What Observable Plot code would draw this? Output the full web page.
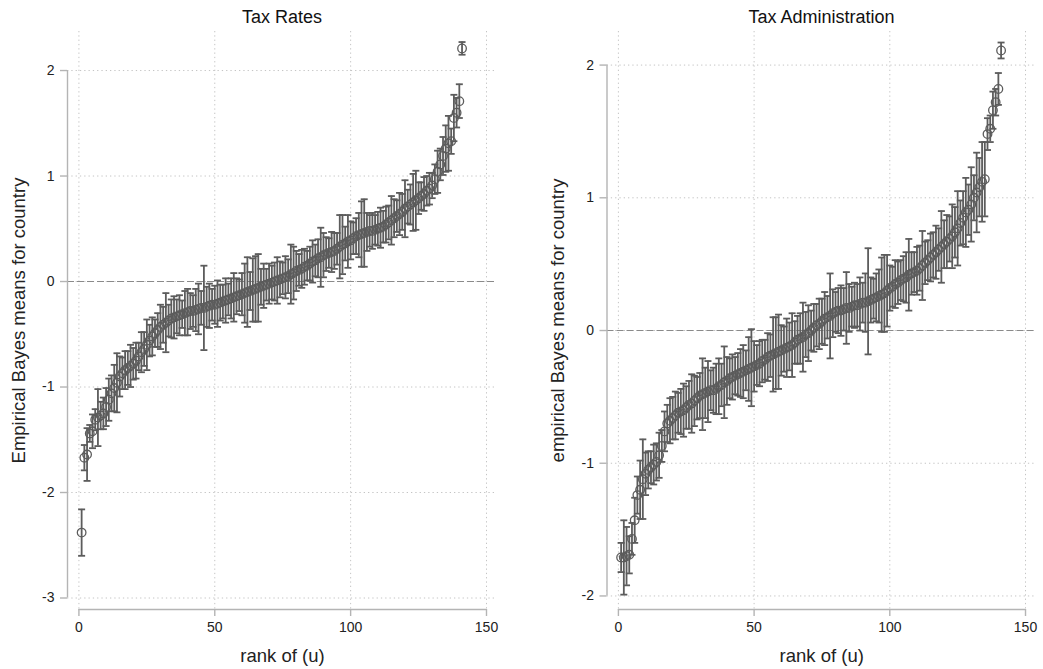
<!DOCTYPE html>
<html><head><meta charset="utf-8">
<script src="https://cdn.jsdelivr.net/npm/d3@7"></script>
<script src="https://cdn.jsdelivr.net/npm/@observablehq/plot@0.6"></script>
<style>
body{margin:0;background:#fff;}
#wrap{position:relative;width:1043px;height:669px;overflow:hidden;font-family:"Liberation Sans",Arial,sans-serif;background:#fff;}
.panel{position:absolute;top:0;}
.title{position:absolute;top:7px;height:20px;line-height:20px;width:430px;font-size:18px;color:#111;text-align:center;white-space:nowrap;z-index:2;}
</style></head><body><div id="wrap"></div>
<script>
// ---------- data ----------
const panelTitles = ["Tax Rates", "Tax Administration"];
const yLabels = ["Empirical Bayes means for country", "empirical Bayes means for country"];
const xLabel = "rank of (u)";
const xTicks = [0, 50, 100, 150];
const ratesYTicks = [-3, -2, -1, 0, 1, 2];
const adminYTicks = [-2, -1, 0, 1, 2];

const ratesMean = [
-2.38,-1.67,-1.64,-1.44,-1.42,-1.31,-1.29,-1.27,-1.25,-1.19,
-1.12,-1.06,-1.01,-0.96,-0.90,-0.87,-0.84,-0.82,-0.80,-0.78,
-0.75,-0.71,-0.67,-0.64,-0.60,-0.56,-0.52,-0.49,-0.46,-0.43,
-0.41,-0.39,-0.37,-0.35,-0.34,-0.33,-0.32,-0.31,-0.30,-0.29,
-0.28,-0.28,-0.27,-0.26,-0.25,-0.25,-0.24,-0.23,-0.22,-0.22,
-0.21,-0.20,-0.19,-0.18,-0.17,-0.16,-0.15,-0.14,-0.13,-0.12,
-0.11,-0.10,-0.09,-0.08,-0.07,-0.06,-0.05,-0.04,-0.03,-0.02,
-0.01,0.00,0.01,0.02,0.03,0.04,0.05,0.07,0.08,0.10,
0.11,0.12,0.14,0.15,0.17,0.19,0.20,0.22,0.23,0.25,
0.26,0.27,0.28,0.29,0.31,0.33,0.35,0.36,0.38,0.39,
0.41,0.43,0.44,0.45,0.46,0.47,0.48,0.48,0.49,0.50,
0.51,0.52,0.54,0.56,0.58,0.60,0.62,0.64,0.66,0.69,
0.71,0.73,0.75,0.77,0.79,0.81,0.83,0.86,0.88,0.91,
0.97,1.04,1.11,1.19,1.26,1.31,1.33,1.55,1.60,1.71,
2.21];
const ratesErr = [
0.22,0.12,0.25,0.08,0.16,0.10,0.27,0.13,0.15,0.18,
0.20,0.17,0.22,0.28,0.19,0.15,0.18,0.16,0.20,0.15,
0.17,0.13,0.19,0.16,0.24,0.15,0.18,0.13,0.16,0.21,
0.17,0.28,0.15,0.18,0.20,0.16,0.19,0.13,0.21,0.22,
0.17,0.15,0.20,0.24,0.16,0.40,0.19,0.21,0.15,0.18,
0.22,0.17,0.16,0.21,0.15,0.19,0.23,0.17,0.15,0.20,
0.28,0.33,0.18,0.30,0.31,0.32,0.17,0.21,0.15,0.19,
0.16,0.18,0.22,0.17,0.15,0.20,0.16,0.28,0.25,0.19,
0.15,0.18,0.17,0.14,0.16,0.20,0.15,0.18,0.28,0.21,
0.16,0.14,0.19,0.17,0.15,0.30,0.28,0.16,0.25,0.18,
0.15,0.17,0.21,0.31,0.32,0.18,0.15,0.17,0.14,0.16,
0.19,0.15,0.17,0.16,0.23,0.18,0.15,0.20,0.17,0.27,
0.16,0.19,0.27,0.28,0.15,0.13,0.16,0.14,0.15,0.12,
0.14,0.20,0.15,0.18,0.22,0.26,0.12,0.22,0.14,0.16,
0.06];

const adminMean = [
-1.71,-1.71,-1.70,-1.69,-1.57,-1.43,-1.24,-1.20,-1.12,-1.08,
-1.05,-1.03,-1.01,-0.99,-0.94,-0.87,-0.76,-0.70,-0.68,-0.66,
-0.64,-0.62,-0.61,-0.60,-0.58,-0.56,-0.55,-0.53,-0.51,-0.49,
-0.48,-0.47,-0.46,-0.45,-0.45,-0.44,-0.42,-0.41,-0.39,-0.38,
-0.36,-0.35,-0.34,-0.33,-0.32,-0.31,-0.30,-0.29,-0.28,-0.27,
-0.26,-0.25,-0.23,-0.22,-0.20,-0.19,-0.18,-0.17,-0.16,-0.15,
-0.14,-0.13,-0.12,-0.11,-0.09,-0.07,-0.06,-0.05,-0.03,-0.02,
0.00,0.02,0.04,0.05,0.07,0.09,0.10,0.11,0.13,0.14,
0.15,0.15,0.16,0.17,0.17,0.18,0.19,0.19,0.20,0.21,
0.21,0.22,0.23,0.24,0.25,0.26,0.27,0.28,0.30,0.32,
0.33,0.35,0.36,0.38,0.39,0.40,0.42,0.43,0.44,0.45,
0.47,0.49,0.51,0.53,0.55,0.57,0.59,0.61,0.63,0.65,
0.67,0.69,0.71,0.74,0.77,0.81,0.85,0.89,0.91,0.95,
1.00,1.04,1.08,1.12,1.14,1.48,1.52,1.66,1.72,1.82,
2.11];
const adminErr = [
0.11,0.28,0.22,0.14,0.12,0.17,0.14,0.22,0.30,0.16,
0.14,0.12,0.15,0.14,0.17,0.12,0.15,0.14,0.17,0.16,
0.18,0.15,0.17,0.20,0.16,0.18,0.22,0.19,0.16,0.17,
0.27,0.19,0.23,0.15,0.17,0.19,0.21,0.16,0.27,0.18,
0.15,0.17,0.14,0.16,0.18,0.20,0.15,0.24,0.29,0.19,
0.15,0.17,0.16,0.15,0.18,0.16,0.28,0.27,0.28,0.19,
0.17,0.22,0.18,0.24,0.16,0.18,0.19,0.26,0.17,0.21,
0.15,0.18,0.16,0.19,0.17,0.20,0.16,0.32,0.18,0.15,
0.17,0.19,0.16,0.27,0.18,0.15,0.17,0.16,0.20,0.15,
0.22,0.40,0.17,0.15,0.18,0.20,0.28,0.29,0.27,0.17,
0.15,0.18,0.16,0.15,0.17,0.19,0.27,0.16,0.15,0.18,
0.17,0.26,0.16,0.15,0.18,0.17,0.20,0.16,0.27,0.18,
0.20,0.17,0.24,0.19,0.28,0.17,0.20,0.26,0.19,0.28,
0.17,0.30,0.22,0.30,0.28,0.12,0.10,0.14,0.10,0.12,
0.06];

// ---------- drawing ----------
const ink = "#5c5c5c";
const capSymbol = {draw(ctx) { ctx.moveTo(-3.5, 0); ctx.lineTo(3.5, 0); }};
const fmt = d => String(d);

function panel({mean, err, yTicks, yDomain, ylabel, width, marginLeft, marginRight}) {
  const rows = mean.map((v, i) => ({rank: i + 1, v, lo: v - err[i], hi: v + err[i]}));
  const xDomain = [-4.2, 154.05];
  return Plot.plot({
    width, height: 669,
    marginLeft, marginRight, marginTop: 31, marginBottom: 60,
    style: {fontFamily: '"Liberation Sans", Arial, sans-serif', fontSize: "14px", background: "transparent", overflow: "visible"},
    x: {domain: xDomain},
    y: {domain: yDomain},
    marks: [
      Plot.gridX(xTicks, {stroke: "#c4c4c4", strokeOpacity: 1, strokeDasharray: "1.3,3"}),
      Plot.gridY(yTicks, {stroke: "#c4c4c4", strokeOpacity: 1, strokeDasharray: "1.3,3"}),
      Plot.ruleY([0], {stroke: "#8a8a8a", strokeWidth: 1.2, strokeDasharray: "7,3"}),
      // axis lines spanning the tick range
      Plot.ruleX([xDomain[0]], {y1: d3.min(yTicks), y2: d3.max(yTicks), stroke: "#b4b4b4", strokeWidth: 1.4}),
      Plot.ruleY([yDomain[0]], {x1: d3.min(xTicks), x2: d3.max(xTicks), stroke: "#b4b4b4", strokeWidth: 1.4}),
      Plot.axisY(yTicks, {tickSize: 7, tickPadding: 6, tickFormat: fmt, stroke: "#b4b4b4", strokeWidth: 1.4, fill: "#222", fontSize: 14,
        label: ylabel, labelAnchor: "center", labelArrow: "none", labelOffset: 56}),
      Plot.axisX(xTicks, {tickSize: 7, tickPadding: 6, tickFormat: fmt, stroke: "#b4b4b4", strokeWidth: 1.4, fill: "#222", fontSize: 14,
        label: xLabel, labelAnchor: "center", labelArrow: "none", labelOffset: 52}),
      Plot.ruleX(rows, {x: "rank", y1: "lo", y2: "hi", stroke: ink, strokeWidth: 1.8}),
      Plot.dot(rows, {x: "rank", y: "lo", symbol: capSymbol, stroke: ink, strokeWidth: 1.8, r: 3}),
      Plot.dot(rows, {x: "rank", y: "hi", symbol: capSymbol, stroke: ink, strokeWidth: 1.8, r: 3}),
      Plot.dot(rows, {x: "rank", y: "v", r: 4.3, stroke: ink, strokeWidth: 1.3, fill: "none"})
    ]
  });
}

const wrap = document.getElementById("wrap");
const specs = [
  {left: 0, width: 521, marginLeft: 67, marginRight: 24, mean: ratesMean, err: ratesErr, yTicks: ratesYTicks, yDomain: [-3.109, 2.370]},
  {left: 540, width: 503, marginLeft: 66.5, marginRight: 7, mean: adminMean, err: adminErr, yTicks: adminYTicks, yDomain: [-2.102, 2.253]}
];
specs.forEach((s, i) => {
  const div = document.createElement("div");
  div.className = "panel";
  div.style.left = s.left + "px";
  const svg = panel({...s, ylabel: yLabels[i]});
  svg.querySelectorAll("[aria-label='y-axis label'] text, [aria-label='x-axis label'] text").forEach(t => t.setAttribute("font-size", "18.5"));
  div.appendChild(svg);
  wrap.appendChild(div);
  const t = document.createElement("div");
  t.className = "title";
  t.style.left = (s.left + s.marginLeft) + "px";
  t.textContent = panelTitles[i];
  wrap.appendChild(t);
});
</script></body></html>
